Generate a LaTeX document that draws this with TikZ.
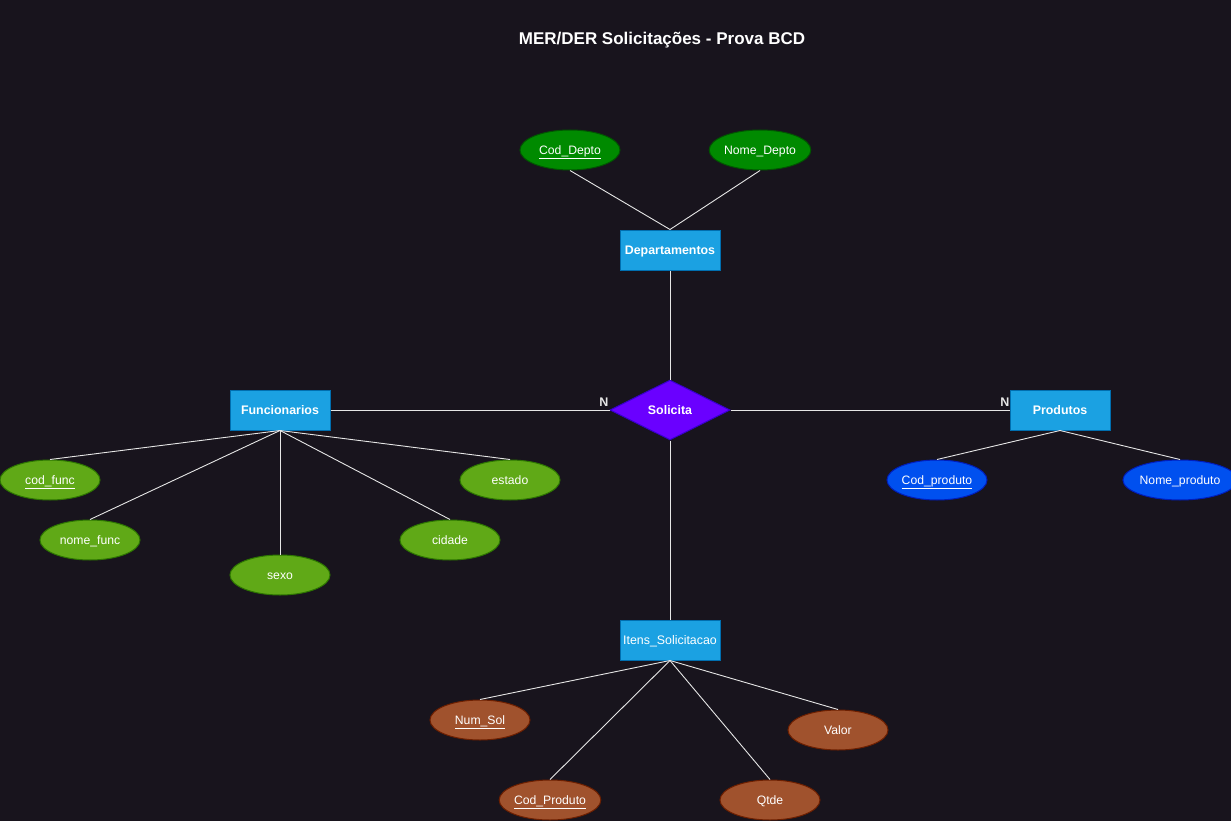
\documentclass[tikz,border=0pt]{standalone}
\usepackage{fontspec}
\setmainfont{Liberation Sans}
\usetikzlibrary{shapes.geometric}
\definecolor{bgc}{HTML}{18141D}
\definecolor{entfill}{HTML}{1BA1E2}
\definecolor{entdraw}{HTML}{006EAF}
\definecolor{deptfill}{HTML}{008A00}
\definecolor{deptdraw}{HTML}{005700}
\definecolor{funcfill}{HTML}{60A917}
\definecolor{funcdraw}{HTML}{2D7600}
\definecolor{prodfill}{HTML}{0050EF}
\definecolor{proddraw}{HTML}{001DBC}
\definecolor{itemfill}{HTML}{A0522D}
\definecolor{itemdraw}{HTML}{6D1F00}
\definecolor{relfill}{HTML}{6A00FF}
\definecolor{reldraw}{HTML}{3700CC}
\definecolor{linec}{HTML}{E6E6E6}
\tikzset{
  entity/.style={rectangle, fill=entfill, draw=entdraw, line width=1pt, minimum width=100pt, minimum height=40pt, inner sep=0pt, text=white, text height=9pt, text depth=0pt, font=\fontsize{12.4}{14}\selectfont\bfseries},
  attr/.style={ellipse, line width=1pt, minimum width=100pt, minimum height=40pt, inner sep=0pt, text=white, text height=8.6pt, text depth=0pt, font=\fontsize{12.2}{14}\selectfont},
  deptattr/.style={attr, fill=deptfill, draw=deptdraw},
  funcattr/.style={attr, fill=funcfill, draw=funcdraw},
  prodattr/.style={attr, fill=prodfill, draw=proddraw},
  itemattr/.style={attr, fill=itemfill, draw=itemdraw},
  rel/.style={diamond, fill=relfill, draw=reldraw, line width=1pt, minimum width=120pt, minimum height=60pt, inner sep=0pt, text=white, text height=9pt, text depth=0pt, font=\fontsize{12.4}{14}\selectfont\bfseries},
  conn/.style={draw=linec, line width=0.9pt},
  card/.style={text=linec, font=\fontsize{12.5}{14}\selectfont\bfseries, inner sep=0pt},
}
\begin{document}
\begin{tikzpicture}[x=1pt,y=-1pt]
\fill[bgc] (0,0) rectangle (1231,821);
\useasboundingbox (0,0) rectangle (1231,821);
\node[text=white, font=\fontsize{17}{20}\selectfont\bfseries, text height=12pt, text depth=0pt] (title) at (662,39) {MER/DER Solicitações - Prova BCD};

\node[entity] (dep) at (670,250) {Departamentos};
\node[entity] (fun) at (280,410) {Funcionarios};
\node[entity] (pro) at (1060,410) {Produtos};
\node[entity, font=\fontsize{12.4}{14}\selectfont] (ite) at (670,640) {Itens\_Solicitacao};
\node[rel] (sol) at (670,410) {Solicita};

\node[deptattr] (cdep) at (570,150) {\underline{Cod\_Depto}};
\node[deptattr] (ndep) at (760,150) {Nome\_Depto};

\node[funcattr] (cfun) at (50,480) {\underline{cod\_func}};
\node[funcattr] (nfun) at (90,540) {nome\_func};
\node[funcattr] (sexo) at (280,575) {sexo};
\node[funcattr] (cid) at (450,540) {cidade};
\node[funcattr] (est) at (510,480) {estado};

\node[prodattr] (cpro) at (937,480) {\underline{Cod\_produto}};
\node[prodattr] (npro) at (1180,480) {Nome\_produto};

\node[itemattr] (nsol) at (480,720) {\underline{Num\_Sol}};
\node[itemattr] (cprod) at (550,800) {\underline{Cod\_Produto}};
\node[itemattr] (qtde) at (770,800) {Qtde};
\node[itemattr] (val) at (838,730) {Valor};

\draw[conn] (cdep.south) -- (dep.north);
\draw[conn] (ndep.south) -- (dep.north);
\draw[conn] (dep.south) -- (sol.north);
\draw[conn] (fun.east) -- (sol.west);
\draw[conn] (sol.east) -- (pro.west);
\draw[conn] (sol.south) -- (ite.north);

\draw[conn] (fun.south) -- (cfun.north);
\draw[conn] (fun.south) -- (nfun.north);
\draw[conn] (fun.south) -- (sexo.north);
\draw[conn] (fun.south) -- (cid.north);
\draw[conn] (fun.south) -- (est.north);

\draw[conn] (pro.south) -- (cpro.north);
\draw[conn] (pro.south) -- (npro.north);

\draw[conn] (ite.south) -- (nsol.north);
\draw[conn] (ite.south) -- (cprod.north);
\draw[conn] (ite.south) -- (qtde.north);
\draw[conn] (ite.south) -- (val.north);

\node[card] (n1) at (604,402) {N};
\node[card] (n2) at (1005,402) {N};
\end{tikzpicture}
\end{document}
